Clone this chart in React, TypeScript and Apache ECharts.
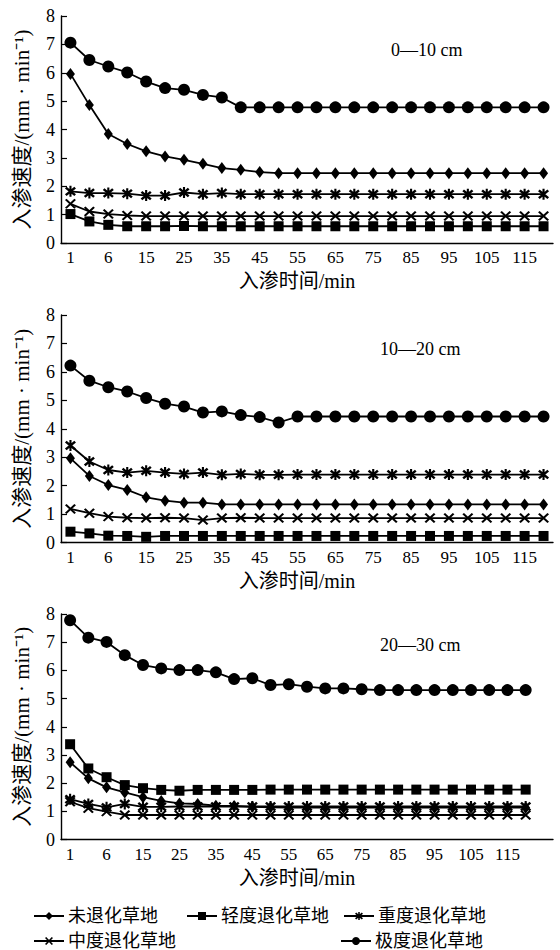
import React, { useEffect, useRef } from "react";
import * as echarts from "echarts";

// infiltration time categories (min)
const times = [1, 3, 6, 10, 15, 20, 25, 30, 35, 40, 45, 50, 55, 60, 65, 70, 75, 80, 85, 90, 95, 100, 105, 110, 115, 120];

const seriesNames = ["未退化草地", "轻度退化草地", "重度退化草地", "中度退化草地", "极度退化草地"];
const panelTitles = ["0—10 cm", "10—20 cm", "20—30 cm"];
const xTitle = "入渗时间/min";
const yTitle = "入渗速度/(mm · min⁻¹)";

// 0—10 cm
const undeg1 = [5.96, 4.86, 3.84, 3.49, 3.23, 3.05, 2.93, 2.79, 2.64, 2.58, 2.5, 2.46, 2.46, 2.46, 2.46, 2.46, 2.46, 2.46, 2.46, 2.46, 2.46, 2.46, 2.46, 2.46, 2.46, 2.46];
const light1 = [1.02, 0.76, 0.64, 0.59, 0.59, 0.59, 0.6, 0.59, 0.59, 0.59, 0.59, 0.59, 0.59, 0.59, 0.59, 0.59, 0.59, 0.59, 0.59, 0.59, 0.59, 0.59, 0.59, 0.59, 0.59, 0.59];
const heavy1 = [1.82, 1.76, 1.76, 1.74, 1.67, 1.67, 1.78, 1.72, 1.76, 1.72, 1.72, 1.72, 1.72, 1.72, 1.72, 1.72, 1.72, 1.72, 1.72, 1.72, 1.72, 1.72, 1.72, 1.72, 1.72, 1.72];
const moderate1 = [1.38, 1.11, 1.02, 0.97, 0.95, 0.95, 0.95, 0.95, 0.95, 0.95, 0.95, 0.95, 0.95, 0.95, 0.95, 0.95, 0.95, 0.95, 0.95, 0.95, 0.95, 0.95, 0.95, 0.95, 0.95, 0.95];
const extreme1 = [7.06, 6.45, 6.22, 6.01, 5.69, 5.46, 5.4, 5.22, 5.13, 4.78, 4.78, 4.78, 4.78, 4.78, 4.78, 4.78, 4.78, 4.78, 4.78, 4.78, 4.78, 4.78, 4.78, 4.78, 4.78, 4.78];

// 10—20 cm
const undeg2 = [2.96, 2.34, 2.02, 1.85, 1.59, 1.47, 1.4, 1.4, 1.34, 1.34, 1.34, 1.34, 1.34, 1.34, 1.34, 1.34, 1.34, 1.34, 1.34, 1.34, 1.34, 1.34, 1.34, 1.34, 1.34, 1.34];
const light2 = [0.38, 0.32, 0.24, 0.23, 0.2, 0.23, 0.23, 0.23, 0.23, 0.23, 0.23, 0.23, 0.23, 0.23, 0.23, 0.23, 0.23, 0.23, 0.23, 0.23, 0.23, 0.23, 0.23, 0.23, 0.23, 0.23];
const heavy2 = [3.41, 2.85, 2.55, 2.46, 2.52, 2.46, 2.41, 2.46, 2.38, 2.41, 2.38, 2.38, 2.39, 2.39, 2.39, 2.39, 2.39, 2.39, 2.39, 2.39, 2.39, 2.39, 2.39, 2.39, 2.39, 2.39];
const moderate2 = [1.18, 1.03, 0.91, 0.87, 0.86, 0.87, 0.86, 0.79, 0.86, 0.87, 0.86, 0.86, 0.86, 0.86, 0.86, 0.86, 0.86, 0.86, 0.86, 0.86, 0.86, 0.86, 0.86, 0.86, 0.86, 0.86];
const extreme2 = [6.22, 5.69, 5.46, 5.31, 5.08, 4.88, 4.78, 4.57, 4.61, 4.48, 4.41, 4.22, 4.43, 4.43, 4.43, 4.43, 4.43, 4.43, 4.43, 4.43, 4.43, 4.43, 4.43, 4.43, 4.43, 4.43];

// 20—30 cm
const undeg3 = [2.74, 2.17, 1.85, 1.67, 1.5, 1.37, 1.28, 1.26, 1.2, 1.19, 1.16, 1.14, 1.13, 1.13, 1.13, 1.13, 1.13, 1.13, 1.13, 1.13, 1.13, 1.13, 1.13, 1.13, 1.13, 1.13];
const light3 = [3.38, 2.52, 2.21, 1.93, 1.82, 1.76, 1.73, 1.76, 1.76, 1.76, 1.76, 1.77, 1.77, 1.77, 1.77, 1.77, 1.77, 1.77, 1.77, 1.77, 1.77, 1.77, 1.77, 1.77, 1.77, 1.77];
const heavy3 = [1.43, 1.26, 1.14, 1.26, 1.16, 1.16, 1.17, 1.17, 1.17, 1.17, 1.17, 1.17, 1.17, 1.17, 1.17, 1.17, 1.17, 1.17, 1.17, 1.17, 1.17, 1.17, 1.17, 1.17, 1.17, 1.17];
const moderate3 = [1.34, 1.11, 0.99, 0.87, 0.87, 0.87, 0.87, 0.87, 0.87, 0.87, 0.87, 0.87, 0.87, 0.87, 0.87, 0.87, 0.87, 0.87, 0.87, 0.87, 0.87, 0.87, 0.87, 0.87, 0.87, 0.87];
const extreme3 = [7.78, 7.16, 7.01, 6.54, 6.19, 6.07, 6.01, 6.01, 5.93, 5.69, 5.72, 5.48, 5.51, 5.42, 5.36, 5.36, 5.33, 5.3, 5.3, 5.3, 5.3, 5.3, 5.3, 5.3, 5.3, 5.3];

const panels = [
  [undeg1, light1, heavy1, moderate1, extreme1],
  [undeg2, light2, heavy2, moderate2, extreme2],
  [undeg3, light3, heavy3, moderate3, extreme3],
];

const FONT = "'Liberation Serif', 'Noto Sans CJK SC', serif";

const ASTERISK =
  "path://M4.1 0 L5.9 0 L5.9 10 L4.1 10 Z " +
  "M1.7 0.7 L9.7 7.7 L8.3 9.3 L0.3 2.3 Z " +
  "M9.7 2.3 L1.7 9.3 L0.3 7.7 L8.3 0.7 Z";
const CROSS =
  "path://M1.7 0.8 L9.7 8.2 L8.3 9.2 L0.3 1.8 Z " +
  "M9.7 1.8 L1.7 9.2 L0.3 8.2 L8.3 0.8 Z";

const symbols: any[] = ["diamond", "rect", ASTERISK, CROSS, "circle"];
const symbolSizes: any[] = [[9, 12], 10, 11, [11, 10], 12];

export default function App() {
  const ref = useRef<HTMLDivElement>(null);
  useEffect(() => {
    if (!ref.current) return;
    const chart = echarts.init(ref.current, undefined, { renderer: "svg" });
    const grids = [
      { left: 61, top: 16, width: 492, height: 227 },
      { left: 61, top: 315, width: 492, height: 227.5 },
      { left: 61, top: 614, width: 492, height: 225.5 },
    ];
    const xAxes = grids.map((_, p) => {
      const cats = (p === 2 ? [...times, ""] : times).map(String);
      return {
        type: "category",
        gridIndex: p,
        data: cats,
        boundaryGap: true,
        axisLine: { lineStyle: { color: "#000", width: 1.4 } },
        axisTick: {
          inside: true,
          length: 5,
          alignWithLabel: true,
          interval: (i: number) => i % 2 === 0 && i < times.length,
          lineStyle: { color: "#000", width: 1.2 },
        },
        axisLabel: {
          interval: (i: number) => i % 2 === 0 && i < times.length,
          margin: 6,
          fontSize: 17,
          color: "#000",
          fontFamily: FONT,
        },
        name: xTitle,
        nameLocation: "middle",
        nameGap: 28,
        nameTextStyle: { fontSize: 20, color: "#000", fontFamily: FONT, padding: [0, 20, 0, 0] },
      };
    });
    const yAxes = grids.map((_, p) => ({
      type: "value",
      gridIndex: p,
      min: 0,
      max: 8,
      interval: 1,
      splitLine: { show: false },
      axisLine: { show: true, lineStyle: { color: "#000", width: 1.4 } },
      axisTick: { show: true, inside: true, length: 6, lineStyle: { color: "#000", width: 1.2 } },
      axisLabel: { margin: 6, fontSize: 18, color: "#000", fontFamily: FONT },
      name: yTitle,
      nameLocation: "middle",
      nameGap: 29,
      nameTextStyle: { fontSize: 21, color: "#000", fontFamily: FONT },
    }));
    const series: any[] = [];
    panels.forEach((arrs, p) => {
      arrs.forEach((arr, k) => {
        series.push({
          type: "line",
          name: seriesNames[k],
          xAxisIndex: p,
          yAxisIndex: p,
          data: arr,
          symbol: symbols[k],
          symbolSize: symbolSizes[k],
          showAllSymbol: true,
          lineStyle: { color: "#000", width: 1.8 },
          itemStyle: { color: "#000" },
        });
      });
    });
    const legendCommon = {
      orient: "horizontal",
      itemWidth: 30,
      itemHeight: 10,
      itemGap: 0,
      padding: 0,
      selectedMode: false,
      textStyle: { fontSize: 18, color: "#000", fontFamily: FONT, padding: [0, 0, 0, -1] },
    };
    const legendPos = [
      { left: 33, top: 907 },
      { left: 186, top: 907 },
      { left: 343, top: 907 },
      { left: 33, top: 932 },
      { left: 340, top: 932 },
    ];
    const legends = [0, 1, 2, 3, 4].map((k) => ({ ...legendCommon, ...legendPos[k], data: [seriesNames[k]] }));
    const titlePos = [
      { left: 391, top: 41 },
      { left: 380, top: 340 },
      { left: 380, top: 636 },
    ];
    chart.setOption({
      animation: false,
      backgroundColor: "#fff",
      title: panelTitles.map((t, i) => ({
        text: t,
        ...titlePos[i],
        padding: 0,
        textStyle: { fontSize: 18, fontWeight: "normal", color: "#000", fontFamily: FONT },
      })),
      legend: legends,
      grid: grids,
      xAxis: xAxes,
      yAxis: yAxes,
      series,
    });
    return () => chart.dispose();
  }, []);
  return (
    <div
      ref={ref}
      style={{ position: "fixed", left: 0, top: 0, width: 560, height: 950, background: "#fff" }}
    />
  );
}
